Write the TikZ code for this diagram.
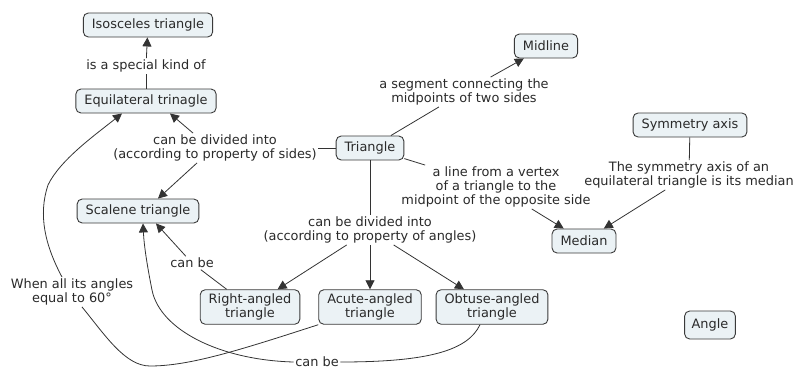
\documentclass[tikz,border=0pt]{standalone}
\usepackage{fontspec}
\setmainfont{DejaVu Sans}
\usetikzlibrary{arrows.meta}
\definecolor{fillcol}{HTML}{EBF2F5}
\definecolor{bordercol}{HTML}{3A3A3A}
\definecolor{linecol}{HTML}{333333}
\definecolor{textcol}{HTML}{2A2A2A}
\begin{document}
\begin{tikzpicture}[x=1pt,y=-1pt,
  every node/.style={font=\fontsize{12.9}{14}\selectfont, text=textcol},
  concept/.style={draw=bordercol, fill=fillcol, rounded corners=5pt, line width=0.9pt,
    inner xsep=8.5pt, inner ysep=4pt, minimum height=24pt, align=center},
  lab/.style={fill=white, inner sep=1.5pt, align=center},
  conn/.style={draw=linecol, line width=0.8pt},
  arr/.style={conn, -{Triangle[length=9pt,width=9pt]}}]
\useasboundingbox (0,0) rectangle (795,370);
% concepts
\node[concept] (iso) at (148,25) {Isosceles triangle};
\node[concept] (eq) at (146,101) {Equilateral trinagle};
\node[concept] (tri) at (370,148) {Triangle};
\node[concept] (scal) at (138,211) {Scalene triangle};
\node[concept] (mid) at (546,46) {Midline};
\node[concept] (sym) at (690,125) {Symmetry axis};
\node[concept] (med) at (584,241) {Median};
\node[concept] (right) at (250,307) {Right-angled\\triangle};
\node[concept] (acu) at (370,307) {Acute-angled\\triangle};
\node[concept] (obt) at (492,307) {Obtuse-angled\\triangle};
\node[concept, minimum height=28pt, inner xsep=7pt] (ang) at (710,325) {Angle};
% labels
\node[lab] (lspec) at (146,66) {is a special kind of};
\node[lab] (lsides) at (215,148) {can be divided into\\(according to property of sides)};
\node[lab] (lseg) at (464,92) {a segment connecting the\\midpoints of two sides};
\node[lab] (lline) at (496,187) {a line from a vertex\\of a triangle to the\\midpoint of the opposite side};
\node[lab] (lsym) at (689,175) {The symmetry axis of an\\equilateral triangle is its median};
\node[lab] (langles) at (370,230) {can be divided into\\(according to property of angles)};
\node[lab] (lcb1) at (192,263) {can be};
\node[lab] (lwhen) at (72,292) {When all its angles\\equal to 60°};
\node[lab] (lcb2) at (317,362) {can be};
% connectors
\draw[conn] (eq) -- (lspec);
\draw[arr] (lspec) -- (iso);
\draw[conn] (tri) -- (lsides);
\draw[arr] ([xshift=-22pt]lsides.north) -- ([xshift=24pt]eq.south);
\draw[arr] ([xshift=-18pt]lsides.south) -- ([xshift=20pt]scal.north);
\draw[conn] (tri) -- (lseg);
\draw[arr] (lseg) -- (mid);
\draw[conn] (tri) -- (lline);
\draw[arr] (lline) -- (med);
\draw[conn] (sym) -- (lsym);
\draw[arr] (lsym) -- (med);
\draw[conn] (tri) -- (langles);
\draw[arr] (langles) -- (right);
\draw[arr] (langles) -- (acu);
\draw[arr] (langles) -- (obt);
\draw[conn] (right) -- (lcb1);
\draw[arr] (lcb1) -- ([xshift=18pt]scal.south);
\draw[conn] (acu.south west) .. controls (240,350) and (190,366) .. (150,366)
  .. controls (125,366) and (105,335) .. ([xshift=10pt]lwhen.south);
\draw[arr] ([xshift=-10pt]lwhen.north) .. controls (45,245) and (38,215) .. (48,185)
  .. controls (60,160) and (95,135) .. ([xshift=-24pt]eq.south);
\draw[conn] ([xshift=-12pt]obt.south) .. controls (468,350) and (430,362) .. (lcb2.east);
\draw[arr] (lcb2.west) .. controls (220,360) and (160,330) .. (152,290)
  .. controls (147,265) and (144,245) .. ([xshift=5pt]scal.south);
\end{tikzpicture}
\end{document}
